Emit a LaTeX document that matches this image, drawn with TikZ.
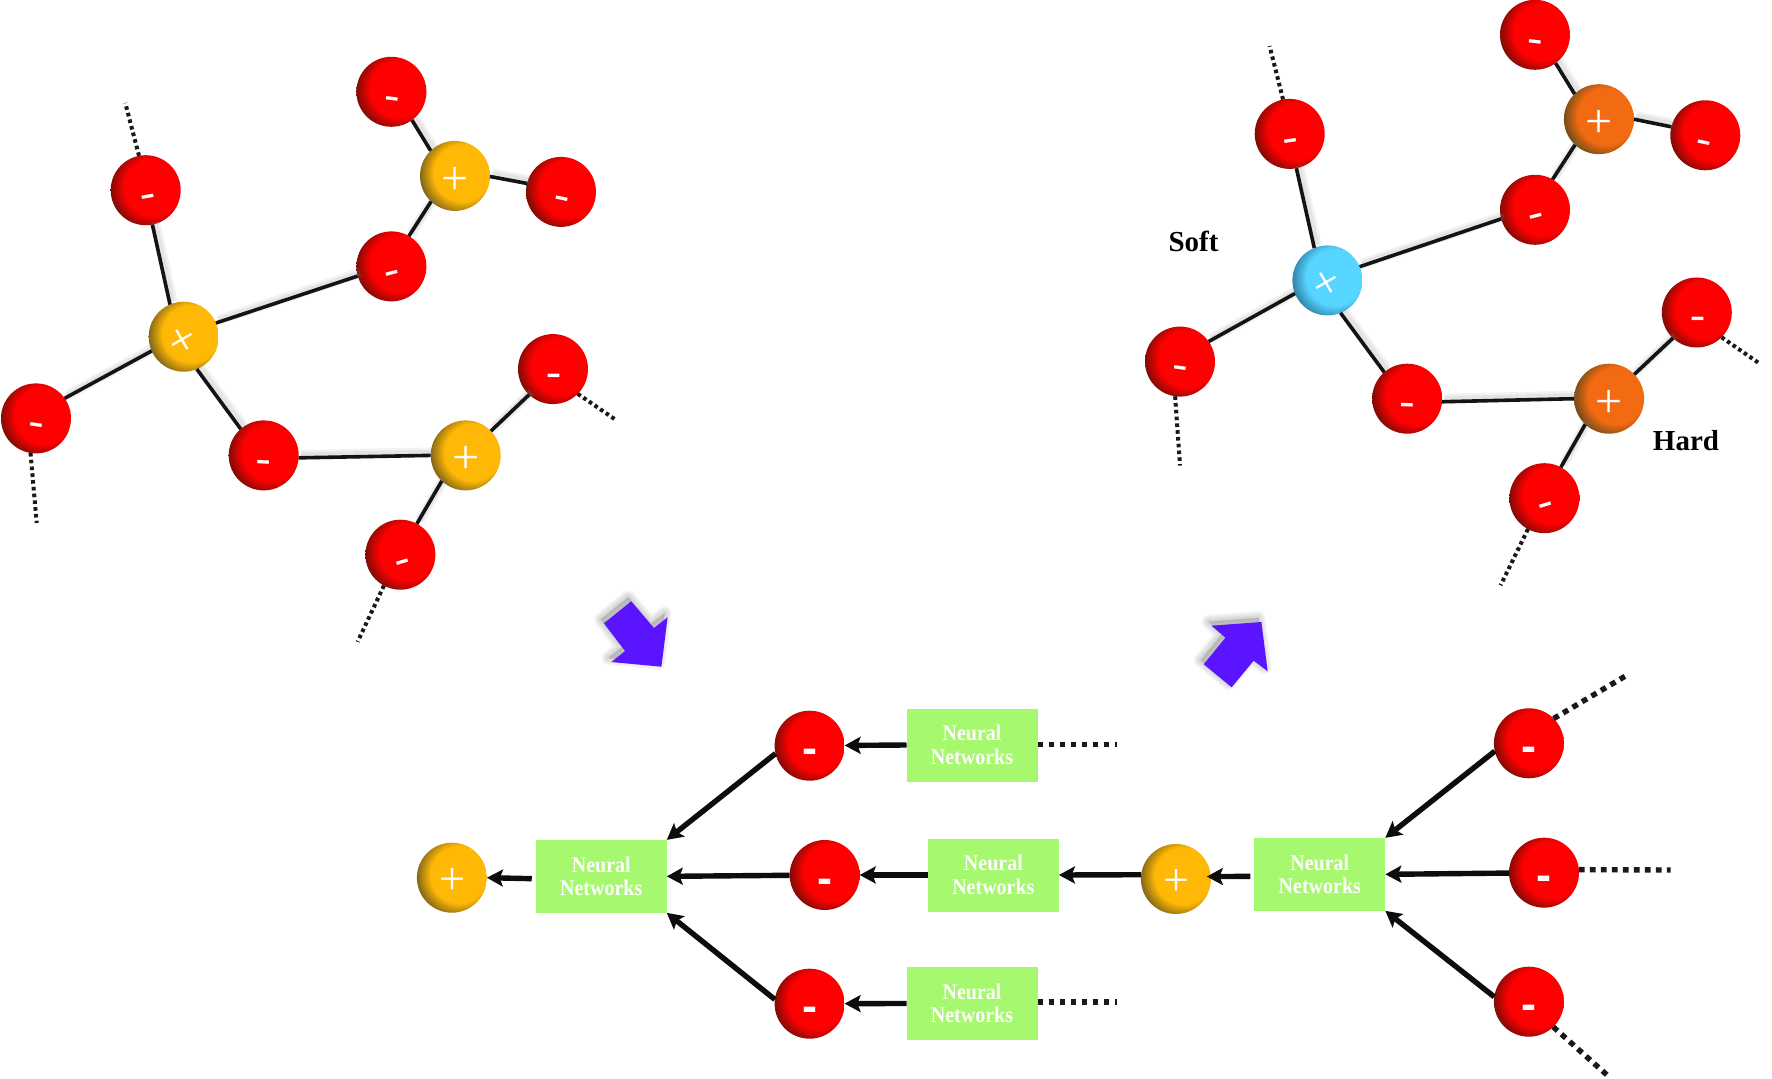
\documentclass[tikz,border=0pt]{standalone}
\usepackage{fontspec}
\usepackage{graphicx}
\setmainfont{Liberation Serif}
\newfontfamily\sgnsans{Liberation Sans}
\usetikzlibrary{arrows.meta}
\definecolor{cred}{HTML}{FF0000}\definecolor{credd}{HTML}{7A0C06}
\definecolor{cyel}{HTML}{FFB805}\definecolor{cyeld}{HTML}{7D6318}
\definecolor{corg}{HTML}{F26A12}\definecolor{corgd}{HTML}{6E4A18}
\definecolor{cblu}{HTML}{55D5FF}\definecolor{cblud}{HTML}{2F7FA8}
\definecolor{cbox}{HTML}{A6F86E}\definecolor{cpur}{HTML}{5A14FF}
\pgfdeclareradialshading{ballred}{\pgfpointorigin}{color(0bp)=(cred); color(16.5bp)=(cred); color(25bp)=(credd); color(50bp)=(credd)}
\pgfdeclareradialshading{ballyel}{\pgfpointorigin}{color(0bp)=(cyel); color(16.5bp)=(cyel); color(25bp)=(cyeld); color(50bp)=(cyeld)}
\pgfdeclareradialshading{ballorg}{\pgfpointorigin}{color(0bp)=(corg); color(16.5bp)=(corg); color(25bp)=(corgd); color(50bp)=(corgd)}
\pgfdeclareradialshading{ballblu}{\pgfpointorigin}{color(0bp)=(cblu); color(16.5bp)=(cblu); color(25bp)=(cblud); color(50bp)=(cblud)}
\tikzset{
 ball/.style={circle,minimum size=35pt,inner sep=0pt,outer sep=0pt,text=white,text height=0pt,text depth=0pt,
   path picture={\shade[shading=#1] ([shift={(7,-3)}]path picture bounding box.center) circle[radius=21.5pt];}},
 bond/.style={line width=1.8pt,black!92,
   preaction={draw=gray,opacity=.1,line width=5pt,transform canvas={shift={(1.3pt,1.5pt)}}},
   preaction={draw=gray,opacity=.12,line width=3pt,transform canvas={shift={(1.1pt,1.3pt)}}}},
 dotsmall/.style={line width=2pt,black!90,dash pattern=on 1.8pt off 1.6pt},
 dotbig/.style={line width=2.7pt,black!90,dash pattern=on 2.9pt off 2.6pt},
 arr/.style={line width=2.7pt,black!95,-{Stealth[length=8pt,width=8.5pt,inset=1.6pt]}},
 nnbox/.style={fill=cbox,minimum width=65.5pt,minimum height=36.5pt,inner sep=0pt,outer sep=0pt,align=center,
   text=white,font=\fontsize{10}{11.8}\selectfont\bfseries},
 lab/.style={font=\fontsize{14.5}{16}\selectfont\bfseries,text=black,inner sep=0pt},
 x=0.5pt,y=-0.5pt
}
\newcommand\mns[2][0pt]{\kern#1\raisebox{-8.7pt}{\rotatebox[origin=c]{#2}{\fontsize{22.5}{22.5}\selectfont -}}}
\newcommand\pls[2][0pt]{\kern#1\raisebox{-9.2pt}{\rotatebox[origin=c]{#2}{\fontsize{24}{24}\selectfont +}}}
\newcommand\bmns{\raisebox{-9pt}{\fontsize{22.5}{22.5}\sgnsans\bfseries\selectfont -}}
\newcommand\bpls{\kern1pt\raisebox{-8.3pt}{\fontsize{23}{23}\selectfont +}}
\newcommand\nntext{\scalebox{1}[1.12]{Neural}\\\scalebox{1}[1.12]{Networks}}
\begin{document}
\begin{tikzpicture}
\useasboundingbox[fill=white] (0,0) rectangle (1772,1079);
% left molecule
\node[ball=ballred] (a1) at (391.4,91.8) {\mns{-7}};
\node[ball=ballyel] (a2) at (455,175.9) {\pls{0}};
\node[ball=ballred] (a3) at (561,191.9) {\mns{-12}};
\node[ball=ballred] (a4) at (391.4,266.4) {\mns[2pt]{15}};
\node[ball=ballred] (a5) at (145.7,190.2) {\mns[3pt]{10}};
\node[ball=ballyel] (a6) at (183.7,336.7) {\pls{30}};
\node[ball=ballred] (a7) at (36,418.4) {\mns{-8}};
\node[ball=ballred] (a8) at (263.7,455.4) {\mns{-3}};
\node[ball=ballyel] (a9) at (465.7,455.4) {\pls{0}};
\node[ball=ballred] (a10) at (553,369.1) {\mns[1pt]{0}};
\node[ball=ballred] (a11) at (400.4,554.7) {\mns[3pt]{17}};
\coordinate (ae5) at (125.3,103);
\coordinate (ae7) at (36.7,523);
\coordinate (ae10) at (616,420);
\coordinate (ae11) at (357.6,641.8);
\foreach \p/\q in {a1.-54/a2.134,a2.-1/a3.166,a2.227/a4.60,a4.196/a6.23,a5.-79/a6.113,a6.204/a7.35,a6.-68/a8.131,a8.-4/a9.180,a9.44/a10.227,a9.227/a11.62}
  \draw[bond] (\p) -- (\q);
\draw[dotsmall] (a5.101) -- (ae5);
\draw[dotsmall] (a7.261) -- (ae7);
\draw[dotsmall] (a10.-45) -- (ae10);
\draw[dotsmall] (a11.242) -- (ae11);
% right molecule
\node[ball=ballred] (b1) at (1535,34.8) {\mns{-7}};
\node[ball=ballorg] (b2) at (1598.9,119.2) {\pls{0}};
\node[ball=ballred] (b3) at (1705.3,135.3) {\mns[-2pt]{-12}};
\node[ball=ballred] (b4) at (1535,209.8) {\mns[2pt]{15}};
\node[ball=ballred] (b5) at (1289.7,133.9) {\mns[1pt]{8}};
\node[ball=ballblu] (b6) at (1327.4,280.4) {\pls{30}};
\node[ball=ballred] (b7) at (1180,361.6) {\mns{-8}};
\node[ball=ballred] (b8) at (1407.2,398.7) {\mns{-2}};
\node[ball=ballorg] (b9) at (1609.1,398.7) {\pls{0}};
\node[ball=ballred] (b10) at (1696.8,312.5) {\mns[1pt]{0}};
\node[ball=ballred] (b11) at (1544.4,498.2) {\mns[2pt]{17}};
\coordinate (be5) at (1269.6,46);
\coordinate (be7) at (1180,465.6);
\coordinate (be10) at (1760.6,364.3);
\coordinate (be11) at (1500.6,585.3);
\foreach \p/\q in {b1.-54/b2.134,b2.0/b3.166,b2.227/b4.60,b4.195/b6.23,b5.-79/b6.112,b6.202/b7.35,b6.-68/b8.131,b8.-5/b9.180,b9.44/b10.227,b9.227/b11.62}
  \draw[bond] (\p) -- (\q);
\draw[dotsmall] (b5.101) -- (be5);
\draw[dotsmall] (b7.262) -- (be7);
\draw[dotsmall] (b10.-45) -- (be10);
\draw[dotsmall] (b11.242) -- (be11);
\node[lab] (soft) at (1193.5,241) {Soft};
\node[lab] (hard) at (1686,441) {Hard};
% purple arrows
\def\arrowone{(661.4,666.7) -- (611.4,662) -- (625.1,651) -- (603.9,623.3) -- (631.2,601.3) -- (653.9,628) -- (667.6,617.3) -- cycle}
\def\arrowtwo{(1261.4,622) -- (1211.5,625.7) -- (1225.4,637.7) -- (1203.7,664.3) -- (1231.6,687.3) -- (1253.7,660.7) -- (1267.6,671.3) -- cycle}
\foreach \w in {7pt,5.5pt,4pt,2.5pt,1pt}{
  \filldraw[gray,opacity=.08,line width=\w,line join=round,shift={(-3,-4)}] \arrowone;
  \filldraw[gray,opacity=.08,line width=\w,line join=round,shift={(-3,-4)}] \arrowtwo;
}
\fill[cpur] \arrowone;
\fill[cpur] \arrowtwo;
% bottom chain
\node[ball=ballyel] (c0) at (451.9,877.7) {\bpls};
\node[nnbox] (n1) at (601.25,876.35) {\nntext};
\node[ball=ballred] (rt) at (809.6,745.7) {\bmns};
\node[ball=ballred] (rm) at (824.7,875) {\bmns};
\node[ball=ballred] (rb) at (809.6,1003.7) {\bmns};
\node[nnbox] (nt) at (972,745) {\nntext};
\node[nnbox] (nm) at (993.4,875) {\nntext};
\node[nnbox] (nb) at (972,1003.5) {\nntext};
\node[ball=ballyel] (c1) at (1175.9,879) {\bpls};
\node[nnbox] (n2) at (1319.8,874.35) {\nntext};
\node[ball=ballred] (st) at (1528.9,743.3) {\bmns};
\node[ball=ballred] (sm) at (1544,872.7) {\bmns};
\node[ball=ballred] (sb) at (1528.9,1001.7) {\bmns};
\coordinate (et) at (1117.3,744.3);
\coordinate (eb) at (1117.3,1002);
\coordinate (e1) at (1625.5,676);
\coordinate (e2) at (1670.5,870);
\coordinate (e3) at (1607,1075);
\draw[arr,shorten <=2pt] ([yshift=-1.2pt]n1.west) -- (c0.0);
\draw[arr] (rt.193) -- (n1.north east);
\draw[arr] (rm) -- (n1.east);
\draw[arr] (rb.173) -- (n1.south east);
\draw[arr] (nt.west) -- (rt);
\draw[arr] (nm.west) -- (rm);
\draw[arr] (nb.west) -- (rb);
\draw[arr] (c1.173) -- (nm.east);
\draw[arr,shorten <=2pt,shorten >=-2pt] ([yshift=-1pt]n2.west) -- (c1.4);
\draw[arr] (st.193) -- (n2.north east);
\draw[arr] (sm) -- (n2.east);
\draw[arr] (sb.172) -- (n2.south east);
\draw[dotbig] (nt.east |- et) -- (et);
\draw[dotbig] (nb.east |- eb) -- (eb);
\draw[dotbig] (st.45) -- (e1);
\draw[dotbig] (sm.5) -- (e2);
\draw[dotbig] (sb.-46) -- (e3);
\end{tikzpicture}
\end{document}
